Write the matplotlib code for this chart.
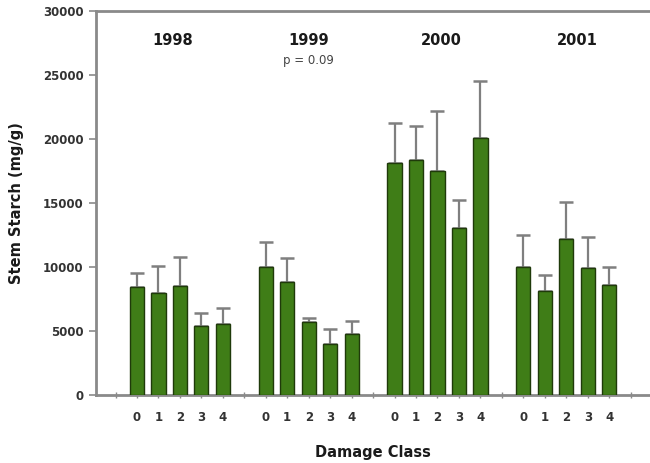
import matplotlib
matplotlib.use("Agg")
import matplotlib.pyplot as plt
import numpy as np

years = ["1998", "1999", "2000", "2001"]
classes = ["0", "1", "2", "3", "4"]
means = {
    "1998": [8450, 7950, 8550, 5420, 5570],
    "1999": [10000, 8850, 5680, 3980, 4770],
    "2000": [18150, 18400, 17500, 13050, 20050],
    "2001": [10020, 8100, 12160, 9900, 8560],
}
errors = {
    "1998": [1100, 2150, 2250, 960, 1230],
    "1999": [1980, 1850, 310, 1150, 1030],
    "2000": [3120, 2640, 4700, 2180, 4500],
    "2001": [2480, 1300, 2940, 2470, 1440],
}
p_text = "p = 0.09"

fig = plt.figure(figsize=(6.5, 4.63), dpi=100)
ax = fig.add_axes([0.148, 0.147, 0.852, 0.829])

bar_color = "#3f7d17"
edge_color = "#1f3a0a"
grid_grey = "#8a8a8a"

xt, xl, seps = [], [], []
for g, yr in enumerate(years):
    base = g * 6
    seps.append(base)
    pos = np.arange(base + 1, base + 6)
    ax.bar(pos, means[yr], width=0.66, color=bar_color, edgecolor=edge_color,
           linewidth=1.0, zorder=3)
    ax.errorbar(pos, means[yr], yerr=[np.zeros(5), errors[yr]], fmt="none",
                ecolor="#7f7f7f", elinewidth=1.6, capsize=5, capthick=1.8, zorder=2)
    xt.extend(pos)
    xl.extend(classes)
seps.append(24)

year_x = [2.65, 8.98, 15.2, 21.5]
for x, yr in zip(year_x, years):
    ax.text(x, 27700, yr, ha="center", va="center", fontsize=10.5,
            fontweight="bold", color="#1a1a1a")
ax.text(9.0, 26150, p_text, ha="center", va="center", fontsize=8.5, color="#444444")

ax.set_xlim(-0.9, 24.9)
ax.set_ylim(0, 30000)
ax.set_yticks(np.arange(0, 30001, 5000))
ax.set_xticks(xt)
ax.set_xticklabels(xl)
ax.set_xticks(seps, minor=True)

for lab in ax.get_xticklabels() + ax.get_yticklabels():
    lab.set_fontweight("bold")
    lab.set_color("#333333")
    lab.set_fontsize(8.5)

ax.tick_params(axis="y", direction="out", length=5, width=1.2, color=grid_grey, pad=4)
ax.tick_params(axis="x", which="major", direction="inout", length=5, width=1.0,
               color=grid_grey, pad=9)
ax.tick_params(axis="x", which="minor", direction="inout", length=4, width=1.0,
               color=grid_grey)

for s in ["left", "bottom", "top"]:
    ax.spines[s].set_color(grid_grey)
    ax.spines[s].set_linewidth(2.0)
ax.spines["right"].set_visible(False)

ax.set_ylabel("Stem Starch (mg/g)", fontsize=10.5, fontweight="bold",
              color="#1a1a1a", labelpad=14)
ax.set_xlabel("Damage Class", fontsize=10.5, fontweight="bold",
              color="#1a1a1a", labelpad=15)

fig.savefig("out.png", dpi=100)
